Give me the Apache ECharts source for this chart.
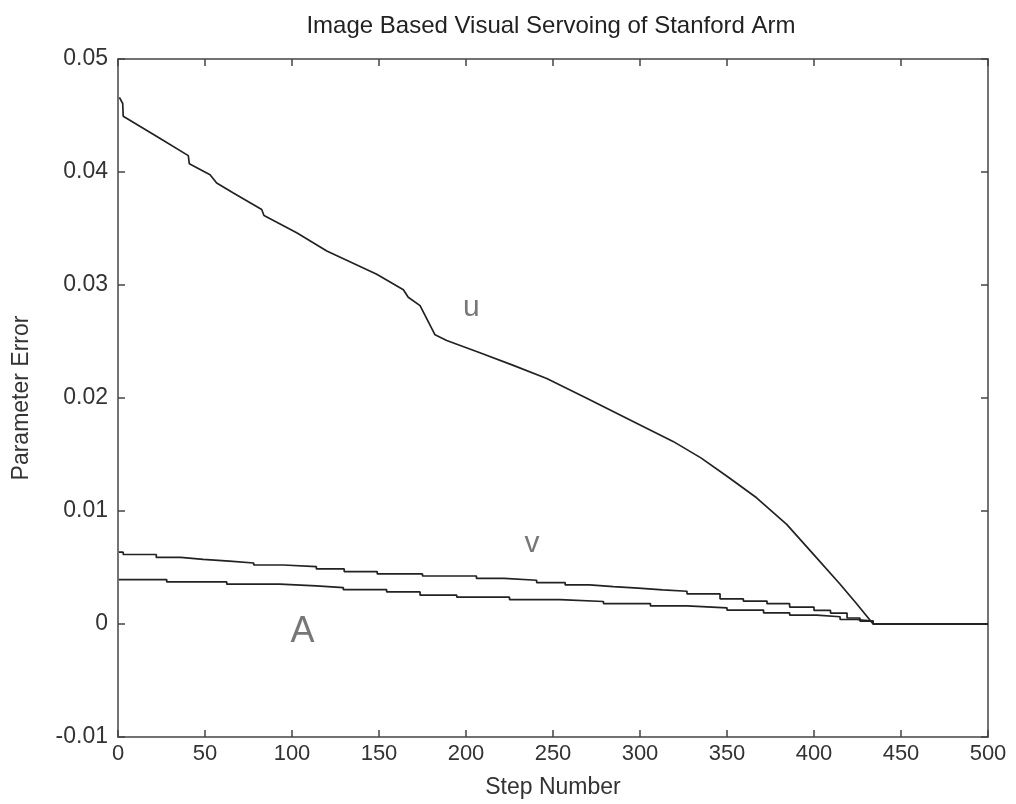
<!DOCTYPE html>
<html><head><meta charset="utf-8">
<script src="https://cdn.jsdelivr.net/npm/echarts@6/dist/echarts.min.js"></script>
<style>html,body{margin:0;padding:0;background:#fff}#c{width:1016px;height:804px}</style>
</head><body><div id="c"></div>
<script>
const titleText = 'Image Based Visual Servoing of Stanford Arm';
const xTicks = [0, 50, 100, 150, 200, 250, 300, 350, 400, 450, 500];
const yTicks = [-0.01, 0, 0.01, 0.02, 0.03, 0.04, 0.05];

const uSeries = [[0.8,0.0466],[2.7,0.04606],[3,0.04494],[24,0.04298],[40.4,0.04145],[41,0.04072],[52.9,0.03975],[56.7,0.03902],[66.3,0.03814],[82.6,0.03668],[83.9,0.03615],[102.7,0.03463],[120,0.03301],[148.7,0.03096],[164,0.02958],[166.8,0.02891],[173.6,0.02817],[182.2,0.02559],[188.9,0.02509],[208,0.02401],[227.2,0.02289],[246.4,0.02172],[269.4,0.01997],[294.3,0.01806],[319,0.01616],[335,0.01470],[350,0.01308],[367,0.01117],[384.3,0.00882],[399.6,0.00618],[414.9,0.00354],[424.5,0.00179],[434,0],[500,0]];

const vSeries = [[0.5,0.00636],[3,0.00615],[22,0.00589],[36,0.00572],[49,0.00557],[64,0.0054],[78,0.00522],[95,0.00508],[114,0.00487],[130,0.00464],[149,0.00443],[175,0.00425],[206,0.00404],[222,0.00387],[240.6,0.00367],[257,0.00346],[271,0.00331],[284.7,0.00317],[299,0.00302],[313,0.0029],[327,0.00267],[346,0.00223],[359.4,0.00203],[373,0.0018],[386,0.0015],[400,0.0012],[409.5,0.00097],[419,0.00053],[426.4,0.00026],[434,0],[500,0]];

const aSeries = [[0.5,0.00393],[28,0.00372],[62.5,0.00352],[93,0.00337],[114,0.00322],[129.5,0.00304],[154.4,0.00284],[173.6,0.00255],[194.7,0.00237],[225,0.00216],[254,0.00199],[279,0.00181],[306,0.0016],[327,0.00143],[350,0.00123],[371,0.00099],[386,0.00079],[401.5,0.00064],[415,0.0004],[424.5,0.00026],[434,0],[500,0]];

const curveLabels = [
  {name:'u', x:203, y:0.0280, size:30},
  {name:'v', x:238, y:0.0071, size:30},
  {name:'A', x:106, y:-0.0007, size:36}
];

const chart = echarts.init(document.getElementById('c'), null, {renderer:'canvas'});
const axisColor = '#444';
const font = 'Liberation Sans, Arial, Helvetica, sans-serif';
const tickStyle = {show:true, inside:true, length:7, lineStyle:{color:axisColor, width:1.5}};
const lineStyle = {color:'#222', width:1.7};

chart.setOption({
  animation:false,
  backgroundColor:'#fff',
  title:{text:titleText, left:546, top:9, textAlign:'center',
    textStyle:{fontFamily:font, fontSize:24, fontWeight:'normal', color:'#222'}},
  grid:{left:118, right:28, top:59, bottom:63, containLabel:false},
  xAxis:[
    {type:'value', min:0, max:500, interval:50, position:'bottom',
     name:'Step Number', nameLocation:'middle', nameGap:39,
     nameTextStyle:{fontFamily:font, fontSize:23, color:'#333'},
     axisLine:{show:true, onZero:false, lineStyle:{color:axisColor, width:1.5}},
     axisTick:tickStyle, splitLine:{show:false},
     axisLabel:{fontFamily:font, fontSize:22, color:'#333', margin:6,
       formatter:v=>xTicks.includes(v)?String(v):''}},
    {type:'value', min:0, max:500, interval:50, position:'top',
     axisLine:{show:true, onZero:false, lineStyle:{color:axisColor, width:1.5}},
     axisTick:tickStyle, axisLabel:{show:false}, splitLine:{show:false}}
  ],
  yAxis:[
    {type:'value', min:-0.01, max:0.05, interval:0.01, position:'left',
     name:'Parameter Error', nameLocation:'middle', nameGap:85,
     nameTextStyle:{fontFamily:font, fontSize:23, color:'#333'},
     axisLine:{show:true, onZero:false, lineStyle:{color:axisColor, width:1.5}},
     axisTick:tickStyle, splitLine:{show:false},
     axisLabel:{fontFamily:font, fontSize:23, color:'#333', margin:10, padding:[0,0,8,0],
       formatter:v=>{const r=Math.round(v*100)/100; return yTicks.includes(r)?String(r):'';}}},
    {type:'value', min:-0.01, max:0.05, interval:0.01, position:'right',
     axisLine:{show:true, onZero:false, lineStyle:{color:axisColor, width:1.5}},
     axisTick:tickStyle, axisLabel:{show:false}, splitLine:{show:false}}
  ],
  series:[
    {type:'line', name:'u', data:uSeries, showSymbol:false, symbol:'none', lineStyle:lineStyle, z:3},
    {type:'line', name:'v', data:vSeries, showSymbol:false, symbol:'none', step:'end', lineStyle:lineStyle, z:3},
    {type:'line', name:'A', data:aSeries, showSymbol:false, symbol:'none', step:'end', lineStyle:lineStyle, z:3},
    {type:'scatter', symbolSize:0, silent:true,
     data:curveLabels.map(l=>({value:[l.x,l.y], name:l.name,
       label:{show:true, position:'inside', formatter:l.name, fontFamily:font, fontSize:l.size, color:'#555'}}))}
  ]
});
</script></body></html>
